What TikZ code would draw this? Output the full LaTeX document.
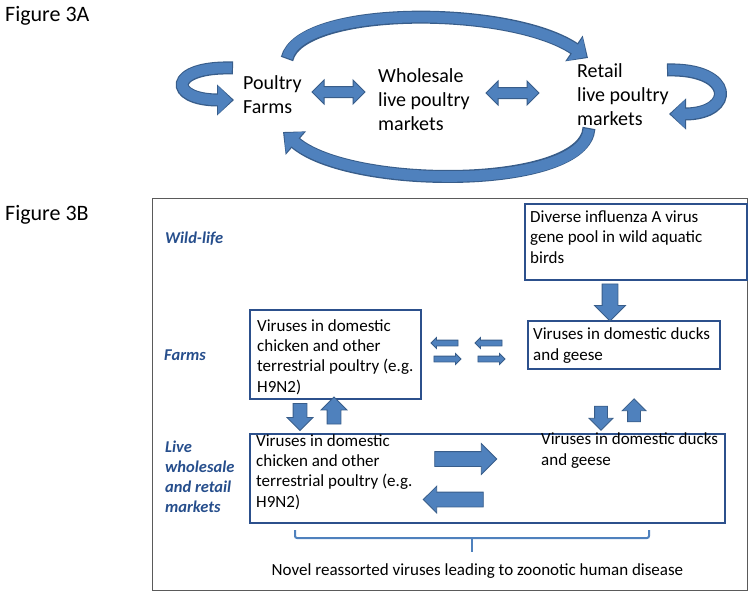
\documentclass[tikz,border=0pt]{standalone}
\usepackage{fontspec}
\setmainfont{Carlito}
\usetikzlibrary{shapes.arrows,arrows.meta}

\definecolor{arrowfill}{RGB}{79,129,189}
\definecolor{arrowdraw}{RGB}{56,93,138}
\definecolor{boxblue}{RGB}{44,80,140}
\definecolor{labelblue}{RGB}{38,78,140}
\definecolor{framegray}{RGB}{90,90,90}

\tikzset{
  figtitle/.style={anchor=base west, inner sep=0pt, font=\fontsize{22}{26}\selectfont},
  actor/.style={anchor=base west, inner sep=0pt, align=left, font=\fontsize{20}{24}\selectfont},
  dblarrow/.style={double arrow, fill=arrowfill, draw=arrowdraw, line width=1pt,
    inner sep=5pt, double arrow head extend=6.5pt, minimum height=53pt},
  level/.style={anchor=base west, inner sep=0pt, align=left, text=labelblue,
    font=\fontsize{16.5}{20}\selectfont\bfseries\itshape},
  virusbox/.style={draw=boxblue, line width=2pt, anchor=north west, inner sep=0pt},
  virustext/.style={anchor=base west, inner sep=0pt, align=left, font=\fontsize{17}{20.3}\selectfont},
  blockarrow/.style={single arrow, fill=arrowfill, draw=arrowdraw, line width=0.8pt},
}

% thick curved arrow with a darker rim
\newcommand{\ribbon}[1]{%
  \draw[line width=13pt, arrowdraw, -{Triangle[width=30pt,length=17pt]}] #1;
  \draw[line width=10.6pt, arrowfill, shorten <=1.2pt, shorten >=1.8pt,
    -{Triangle[width=27pt,length=14pt]}] #1;}

\begin{document}
\begin{tikzpicture}[x=1pt,y=1pt]
\useasboundingbox (0,0) rectangle (754,-597);

% Figure 3A
\node[figtitle] (figa) at (5,-21) {Figure 3A};

% multi-line nodes sit on their last baseline
\node[actor] (farms) at (243,-113) {Poultry\\Farms};
\node[actor] (wholesale) at (378,-130) {Wholesale\\live poultry\\markets};
\node[actor] (retail) at (577,-125) {Retail\\live poultry\\markets};

\node[dblarrow] (farmwhole) at (338.5,-92) {};
\node[dblarrow] (wholeretail) at (512.5,-93) {};

\ribbon{(287,-59) .. controls (300,-5) and (510,-5) .. (588,-58)}
\ribbon{(589,-128) .. controls (585,-190) and (350,-190) .. (283,-132)}
\ribbon{(233,-68) .. controls (168,-66) and (168,-100) .. (234,-100)}
\ribbon{(667,-70) .. controls (735,-68) and (735,-114) .. (669,-114)}

% Figure 3B
\node[figtitle] (figb) at (5,-220) {Figure 3B};
\draw[framegray, line width=1pt] (152,-198) rectangle (747,-590);

\node[level] (wild) at (165,-243) {Wild-life};
\node[level] (farmlvl) at (164,-360) {Farms};
\node[level] (marketlvl) at (165,-512) {Live\\wholesale\\and retail\\markets};

% boxes
\node[virusbox, minimum width=222pt, minimum height=76pt] (genepool) at (524,-203) {};
\node[virusbox, minimum width=192pt, minimum height=48pt] (farmducks) at (527,-320) {};
\node[virusbox, minimum width=171pt, minimum height=89pt] (farmchicken) at (249,-309) {};
\node[virusbox, minimum width=475pt, minimum height=89pt] (market) at (249,-433) {};

\node[virustext] (genepooltext) at (530,-263)
  {Diverse influenza A virus\\gene pool in wild aquatic\\birds};
\node[virustext] (farmduckstext) at (533,-360) {Viruses in domestic ducks\\and geese};
\node[virustext] (farmchickentext) at (257,-392)
  {Viruses in domestic\\chicken and other\\terrestrial poultry (e.g.\\H9N2)};
\node[virustext] (marketchicken) at (256,-507)
  {Viruses in domestic\\chicken and other\\terrestrial poultry (e.g.\\H9N2)};
\node[virustext] (marketducks) at (541,-465) {Viruses in domestic ducks\\and geese};

% block arrows
\node[blockarrow, rotate=-90, minimum height=37pt, inner sep=7.5pt,
  single arrow head extend=7.5pt] (wildtoducks) at (610,-298.5) {};

\foreach \cx in {446,490} {
  \node[blockarrow, rotate=180, minimum height=27pt, inner sep=2.5pt,
    single arrow head extend=2.5pt] (toleft\cx) at (\cx,-343) {};
  \node[blockarrow, minimum height=27pt, inner sep=2.5pt,
    single arrow head extend=2.5pt] (toright\cx) at (\cx,-359) {};
}

\node[blockarrow, rotate=-90, minimum height=27pt, inner sep=6.5pt,
  single arrow head extend=6pt] (chickdown) at (300,-413.5) {};
\node[blockarrow, rotate=90, minimum height=27pt, inner sep=6.5pt,
  single arrow head extend=6pt] (chickup) at (334,-414) {};
\node[blockarrow, rotate=-90, minimum height=24pt, inner sep=6pt,
  single arrow head extend=5.5pt] (duckdown) at (601,-415) {};
\node[blockarrow, rotate=90, minimum height=23pt, inner sep=6pt,
  single arrow head extend=5.5pt] (duckup) at (634,-413.5) {};

\node[blockarrow, minimum height=62pt, inner sep=7pt,
  single arrow head extend=8pt] (chicktoduck) at (462,-459) {};
\node[blockarrow, rotate=180, minimum height=60pt, inner sep=7pt,
  single arrow head extend=6pt] (ducktochick) at (457,-499.5) {};

% bracket and outcome
\draw[arrowfill, line width=2pt, rounded corners=2pt] (295,-530) -- (295,-538) -- (649,-538) -- (649,-530);
\draw[arrowfill, line width=2pt] (472,-538) -- (472,-552);
\node[virustext, anchor=base] (outcome) at (477.5,-575)
  {Novel reassorted viruses leading to zoonotic human disease};

\end{tikzpicture}
\end{document}
